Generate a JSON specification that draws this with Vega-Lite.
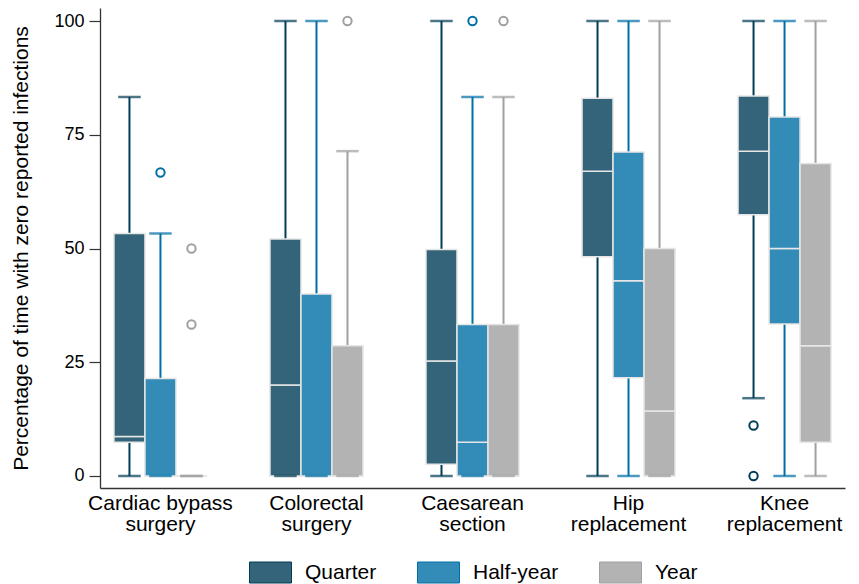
{
  "$schema": "https://vega.github.io/schema/vega-lite/v6.json",
  "width": 745,
  "height": 480,
  "autosize": {"type": "none"},
  "padding": {"left": 100, "top": 8, "right": 14, "bottom": 96},
  "background": "white",
  "config": {
    "font": "Liberation Sans",
    "view": {"stroke": null},
    "axis": {"grid": false},
    "legend": {
      "title": null,
      "orient": "none",
      "legendX": 149,
      "legendY": 543,
      "direction": "horizontal",
      "symbolType": "M-1,-0.5H1V0.5H-1Z",
      "symbolSize": 1764,
      "symbolStrokeWidth": 1,
      "symbolOpacity": 1,
      "labelFontSize": 21,
      "labelColor": "#000",
      "labelOffset": 13,
      "columnPadding": 38
    }
  },
  "datasets": {
    "boxes": [
      {"procedure": "Cardiac bypass surgery", "period": "Quarter", "lower": 0, "q1": 7.4, "median": 8.7, "q3": 53.3, "upper": 83.3},
      {"procedure": "Cardiac bypass surgery", "period": "Half-year", "lower": 0, "q1": 0, "median": 0, "q3": 21.4, "upper": 53.3},
      {"procedure": "Cardiac bypass surgery", "period": "Year", "lower": 0, "q1": 0, "median": 0, "q3": 0, "upper": 0},
      {"procedure": "Colorectal surgery", "period": "Quarter", "lower": 0, "q1": 0, "median": 20, "q3": 52.1, "upper": 100},
      {"procedure": "Colorectal surgery", "period": "Half-year", "lower": 0, "q1": 0, "median": 0, "q3": 40, "upper": 100},
      {"procedure": "Colorectal surgery", "period": "Year", "lower": 0, "q1": 0, "median": 0, "q3": 28.6, "upper": 71.4},
      {"procedure": "Caesarean section", "period": "Quarter", "lower": 0, "q1": 2.6, "median": 25.3, "q3": 49.8, "upper": 100},
      {"procedure": "Caesarean section", "period": "Half-year", "lower": 0, "q1": 0, "median": 7.4, "q3": 33.3, "upper": 83.3},
      {"procedure": "Caesarean section", "period": "Year", "lower": 0, "q1": 0, "median": 0, "q3": 33.3, "upper": 83.3},
      {"procedure": "Hip replacement", "period": "Quarter", "lower": 0, "q1": 48.2, "median": 67, "q3": 83, "upper": 100},
      {"procedure": "Hip replacement", "period": "Half-year", "lower": 0, "q1": 21.6, "median": 42.9, "q3": 71.2, "upper": 100},
      {"procedure": "Hip replacement", "period": "Year", "lower": 0, "q1": 0, "median": 14.3, "q3": 50, "upper": 100},
      {"procedure": "Knee replacement", "period": "Quarter", "lower": 17.1, "q1": 57.4, "median": 71.4, "q3": 83.5, "upper": 100},
      {"procedure": "Knee replacement", "period": "Half-year", "lower": 0, "q1": 33.4, "median": 50, "q3": 78.9, "upper": 100},
      {"procedure": "Knee replacement", "period": "Year", "lower": 0, "q1": 7.4, "median": 28.6, "q3": 68.7, "upper": 100}
    ],
    "outliers": [
      {"procedure": "Cardiac bypass surgery", "period": "Half-year", "value": 66.7},
      {"procedure": "Cardiac bypass surgery", "period": "Year", "value": 50},
      {"procedure": "Cardiac bypass surgery", "period": "Year", "value": 33.3},
      {"procedure": "Colorectal surgery", "period": "Year", "value": 100},
      {"procedure": "Caesarean section", "period": "Half-year", "value": 100},
      {"procedure": "Caesarean section", "period": "Year", "value": 100},
      {"procedure": "Knee replacement", "period": "Quarter", "value": 11.1},
      {"procedure": "Knee replacement", "period": "Quarter", "value": 0}
    ]
  },
  "encoding": {
    "x": {
      "field": "procedure",
      "type": "nominal",
      "sort": ["Cardiac bypass surgery", "Colorectal surgery", "Caesarean section", "Hip replacement", "Knee replacement"],
      "scale": {"paddingInner": 0.225, "paddingOuter": 0},
      "title": null,
      "axis": {
        "ticks": false,
        "labelAngle": 0,
        "labelFontSize": 21,
        "labelLineHeight": 21,
        "labelPadding": 4,
        "labelColor": "#000",
        "domainColor": "#333",
        "domainWidth": 1.3,
        "labelExpr": "[slice(datum.label, 0, lastindexof(datum.label, ' ')), slice(datum.label, lastindexof(datum.label, ' ') + 1)]"
      }
    },
    "xOffset": {
      "field": "period",
      "type": "nominal",
      "sort": ["Quarter", "Half-year", "Year"],
      "scale": {"paddingInner": 0, "paddingOuter": 0.45}
    }
  },
  "layer": [
    {
      "data": {"name": "boxes"},
      "mark": {"type": "rule", "strokeWidth": 2},
      "encoding": {
        "y": {
          "field": "lower",
          "type": "quantitative",
          "scale": {"domain": [-2.64, 102.86], "nice": false, "zero": false},
          "title": "Percentage of time with zero reported infections",
          "axis": {
            "values": [0, 25, 50, 75, 100],
            "labelFontSize": 18,
            "labelColor": "#000",
            "labelPadding": 5,
            "tickSize": 11,
            "tickColor": "#333",
            "tickWidth": 1.2,
            "domainColor": "#333",
            "domainWidth": 1.3,
            "titleFontSize": 21,
            "titleFontWeight": "normal",
            "titleColor": "#000",
            "titlePadding": 22
          }
        },
        "y2": {"field": "q1"},
        "stroke": {
          "field": "period",
          "type": "nominal",
          "scale": {"domain": ["Quarter", "Half-year", "Year"], "range": ["#003D57", "#006FA6", "#A0A0A0"]}
        }
      }
    },
    {
      "data": {"name": "boxes"},
      "mark": {"type": "rule", "strokeWidth": 2},
      "encoding": {
        "y": {"field": "q3", "type": "quantitative"},
        "y2": {"field": "upper"},
        "stroke": {"field": "period", "type": "nominal"}
      }
    },
    {
      "data": {"name": "boxes"},
      "mark": {"type": "bar", "stroke": "#e6e6e6", "strokeWidth": 1.5},
      "encoding": {
        "y": {"field": "q1", "type": "quantitative"},
        "y2": {"field": "median"},
        "fill": {
          "field": "period",
          "type": "nominal",
          "scale": {"domain": ["Quarter", "Half-year", "Year"], "range": ["#336479", "#338CB8", "#B3B3B3"]},
          "legend": {
            "encode": {
              "symbols": {
                "update": {
                  "stroke": {"value": "#d9d9d9"},
                  "fill": {"scale": "fill", "field": "value"},
                  "strokeWidth": {"value": 1},
                  "opacity": {"value": 1},
                  "fillOpacity": {"value": 1}
                }
              }
            }
          }
        }
      }
    },
    {
      "data": {"name": "boxes"},
      "mark": {"type": "bar", "stroke": "#e6e6e6", "strokeWidth": 1.5},
      "encoding": {
        "y": {"field": "median", "type": "quantitative"},
        "y2": {"field": "q3"},
        "fill": {"field": "period", "type": "nominal"}
      }
    },
    {
      "data": {"name": "boxes"},
      "mark": {"type": "tick", "size": 21, "thickness": 1, "fill": "transparent", "strokeWidth": 1.5},
      "encoding": {
        "y": {"field": "lower", "type": "quantitative"},
        "stroke": {"field": "period", "type": "nominal"}
      }
    },
    {
      "data": {"name": "boxes"},
      "mark": {"type": "tick", "size": 21, "thickness": 1, "fill": "transparent", "strokeWidth": 1.5},
      "encoding": {
        "y": {"field": "upper", "type": "quantitative"},
        "stroke": {"field": "period", "type": "nominal"}
      }
    },
    {
      "data": {"name": "outliers"},
      "mark": {"type": "point", "filled": false, "size": 70, "strokeWidth": 2, "opacity": 1},
      "encoding": {
        "y": {"field": "value", "type": "quantitative"},
        "stroke": {"field": "period", "type": "nominal"}
      }
    }
  ]
}
